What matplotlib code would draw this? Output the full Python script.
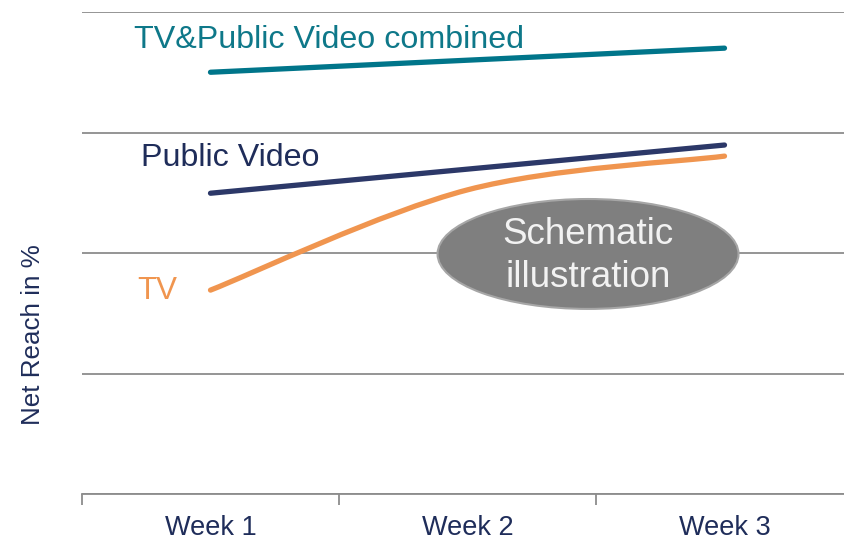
import matplotlib
matplotlib.use("Agg")
import matplotlib.pyplot as plt
from matplotlib.path import Path
from matplotlib.patches import PathPatch, Ellipse

plt.rcParams['font.family'] = ['Liberation Sans', 'DejaVu Sans']

categories = ["Week 1", "Week 2", "Week 3"]
combined = [87.5, 90.0, 92.5]
public_video = [62.4, 67.4, 72.4]
tv = [42.3, 63.1, 70.1]
yticks = [0, 25, 50, 75, 100]

C_COMB = "#00758A"
C_PV = "#2C3868"
C_TV = "#F0954F"
C_TXT = "#1F2D5A"
C_GRID = "#8C8C8C"

W, H = 844, 540
fig = plt.figure(figsize=(W / 100, H / 100), dpi=100)
ax = fig.add_axes([82 / W, (H - 494) / H, 771 / W, (494 - 12) / H])
ax.set_xlim(-0.5, 2.5)
ax.set_ylim(0, 100)

x = list(range(len(categories)))


def smooth_path(xs, ys):
    pts = list(zip(xs, ys))
    n = len(pts)
    verts = [pts[0]]
    codes = [Path.MOVETO]
    for i in range(n - 1):
        p_prev = pts[i - 1] if i > 0 else pts[i]
        p0 = pts[i]
        p1 = pts[i + 1]
        p_next = pts[i + 2] if i + 2 < n else pts[i + 1]
        c1 = (p0[0] + (p1[0] - p_prev[0]) / 6, p0[1] + (p1[1] - p_prev[1]) / 6)
        c2 = (p1[0] - (p_next[0] - p0[0]) / 6, p1[1] - (p_next[1] - p0[1]) / 6)
        verts += [c1, c2, p1]
        codes += [Path.CURVE4] * 3
    return Path(verts, codes)


for series, col in [(combined, C_COMB), (public_video, C_PV), (tv, C_TV)]:
    patch = PathPatch(smooth_path(x, series), facecolor="none", edgecolor=col,
                      lw=3.8, capstyle="round", joinstyle="round", zorder=3)
    ax.add_patch(patch)

# grid
ax.set_yticks(yticks)
ax.yaxis.grid(True, color=C_GRID, lw=1.3)
ax.set_axisbelow(True)
ax.tick_params(axis="y", left=False, labelleft=False)
for s in ["top", "right", "left"]:
    ax.spines[s].set_visible(False)
ax.spines["bottom"].set_color(C_GRID)
ax.spines["bottom"].set_linewidth(1.3)

ax.set_xticks(x)
ax.set_xticklabels(categories, fontsize=19.5, color=C_TXT)
ax.set_xticks([-0.5, 0.5, 1.5, 2.5], minor=True)
ax.tick_params(axis="x", which="major", length=0, pad=15)
ax.tick_params(axis="x", which="minor", length=8, width=1.3, color=C_GRID, direction="out")

fig.text(33 / W, 1 - 335 / H, "Net Reach in %", rotation=90, ha="center", va="center",
         fontsize=18.7, color=C_TXT)

# series labels
fig.text(134 / W, 1 - 40 / H, "TV&Public Video combined", ha="left", va="center",
         fontsize=23.2, color="#0E7889")
fig.text(141 / W, 1 - 158 / H, "Public Video", ha="left", va="center",
         fontsize=23.2, color=C_TXT)
fig.text(137 / W, 1 - 291 / H, "TV", ha="left", va="center",
         fontsize=22.5, color=C_TV)

# schematic ellipse
ell = Ellipse((1.469, 49.8), 1.171, 22.8, facecolor="#7F7F7F", edgecolor="#A6A6A6",
              lw=1.5, zorder=4)
ax.add_patch(ell)
ax.text(1.469, 49.4, "Schematic\nillustration", ha="center", va="center",
        fontsize=26.5, color="#F2F2F2", linespacing=1.28, zorder=5)

fig.savefig("out.png", dpi=100)
